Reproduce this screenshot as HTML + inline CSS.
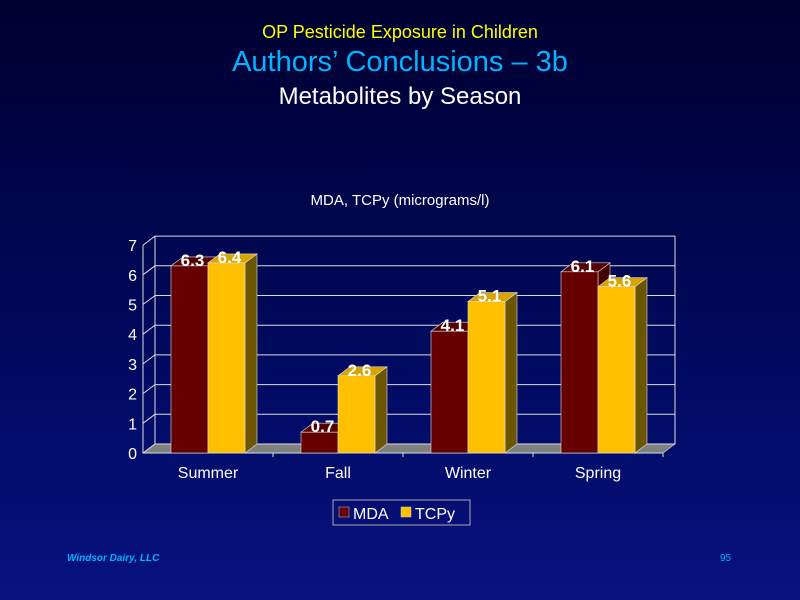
<!DOCTYPE html>
<html><head><meta charset="utf-8"><style>
body{margin:0;width:800px;height:600px;overflow:hidden;background:linear-gradient(#000030,#000a60 60%,#081280);font-family:"Liberation Sans",sans-serif}
.t{position:absolute;width:800px;text-align:center;left:0}
</style></head><body>
<div class="t" style="top:22px;font-size:18px;color:#ffff00">OP Pesticide Exposure in Children</div>
<div class="t" style="top:46px;font-size:29px;color:#00b4ff">Authors’ Conclusions – 3b</div>
<div class="t" style="top:83px;font-size:24px;color:#fff">Metabolites by Season</div>
<svg id="c" width="800" height="600" style="position:absolute;left:0;top:0"></svg>
<div style="position:absolute;left:67px;top:553px;font-size:10px;font-style:italic;font-weight:bold;color:#00b4ff">Windsor Dairy, LLC</div>
<div style="position:absolute;left:720px;top:553px;font-size:10px;color:#00b4ff">95</div>
<script>
const categories=["Summer","Fall","Winter","Spring"];
const mda=[6.3,0.7,4.1,6.1];
const tcpy=[6.4,2.6,5.1,5.6];
const ticks=[0,1,2,3,4,5,6,7];
const NS="http://www.w3.org/2000/svg",s=document.getElementById('c');
function el(t,a,p){const e=document.createElementNS(NS,t);for(const k in a)e.setAttribute(k,a[k]);(p||s).appendChild(e);return e;}
const x0=143,y0=453,unit=29.7,dx=12,dy=-9,cw=130,bw=37,xEnd=663;
const y=v=>y0-v*unit;
let e=el('text',{x:400,y:205,fill:'#fff','font-size':15,'text-anchor':'middle'});e.textContent='MDA, TCPy (micrograms/l)';


e=el('polygon',{points:`${x0},${y0} ${xEnd},${y0} ${xEnd+dx},${y0+dy} ${x0+dx},${y0+dy}`,fill:'#808080',stroke:'#ccc','stroke-width':0.7});


ticks.forEach(t=>{
 const g=el('polyline',{points:`${x0},${y(t)} ${x0+dx},${y(t)+dy} ${xEnd+dx},${y(t)+dy}`,fill:'none',stroke:'#ddd','stroke-width':1});
 
 
 const l=el('text',{x:x0-6,y:y(t)+6,fill:'#fff','font-size':16,'text-anchor':'end'});l.textContent=t;
 
 
});
el('line',{x1:x0+dx,y1:y(0)+dy,x2:x0+dx,y2:y(7)+dy,stroke:'#ddd'});
el('line',{x1:xEnd+dx,y1:y(0)+dy,x2:xEnd+dx,y2:y(7)+dy,stroke:'#ddd'});
el('line',{x1:x0,y1:y0,x2:x0,y2:y(7),stroke:'#ddd'});
el('line',{x1:x0,y1:y0,x2:xEnd,y2:y0,stroke:'#ddd'});
function bar(x,v,front,top,side,name){
 const g=el('g',{});
 
 
 const yt=y(v);
 el('polygon',{points:`${x+bw},${y0} ${x+bw+dx},${y0+dy} ${x+bw+dx},${yt+dy} ${x+bw},${yt}`,fill:side,stroke:'#ddd','stroke-width':0.6},g);
 el('polygon',{points:`${x},${yt} ${x+dx},${yt+dy} ${x+bw+dx},${yt+dy} ${x+bw},${yt}`,fill:top,stroke:'#ddd','stroke-width':0.6},g);
 el('rect',{x:x,y:yt,width:bw,height:y0-yt,fill:front,stroke:'#ddd','stroke-width':0.6},g);
 const t=el('text',{x:x+bw/2+3,y:yt,fill:'#fff','font-size':17,'font-weight':'bold','text-anchor':'middle'},g);t.textContent=v;
}
categories.forEach((c,i)=>{
 const cx=x0+cw*i+cw/2;
 bar(cx-bw,mda[i],'#660000','#550000','#440000','bar-mda-'+c.toLowerCase());
 bar(cx,tcpy[i],'#ffc000','#d9a300','#6b5500','bar-tcpy-'+c.toLowerCase());
 const l=el('text',{x:cx,y:478,fill:'#fff','font-size':16,'text-anchor':'middle'});l.textContent=c;
 
 
 el('line',{x1:x0+cw*(i+1),y1:y0,x2:x0+cw*(i+1),y2:y0+4,stroke:'#ddd'});
});
const lg=el('g',{});


el('rect',{x:333,y:500,width:137,height:25,fill:'none',stroke:'#aaa'},lg);
el('rect',{x:339,y:507,width:10,height:10,fill:'#660000',stroke:'#ccc','stroke-width':0.5},lg);
let t=el('text',{x:353,y:519,fill:'#fff','font-size':16},lg);t.textContent='MDA';
el('rect',{x:401,y:507,width:10,height:10,fill:'#ffc000',stroke:'#ccc','stroke-width':0.5},lg);
t=el('text',{x:415,y:519,fill:'#fff','font-size':16},lg);t.textContent='TCPy';
</script>
</body></html>
